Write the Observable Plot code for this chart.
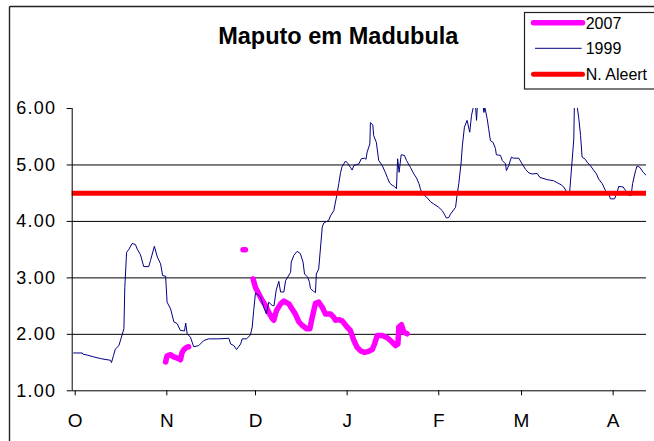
<!DOCTYPE html>
<html><head><meta charset="utf-8">
<script src="https://cdn.jsdelivr.net/npm/d3@7"></script>
<script src="https://cdn.jsdelivr.net/npm/@observablehq/plot@0.6"></script>
<style>
html,body{margin:0;padding:0;background:#fff;}
#chart{position:relative;width:654px;height:441px;overflow:hidden;}
</style></head><body><div id="chart"></div>
<script>
// ---- data ----
const title = "Maputo em Madubula";
const seasonStart = "1998-10-01T00:00:00Z";
const seasonLengthDays = 194.3;
const monthTicks = ["1998-10-01","1998-11-01","1998-12-01","1999-01-01","1999-02-01","1999-03-01","1999-04-01"];
const monthLabels = ["O","N","D","J","F","M","A"];
const yTicks = [1, 2, 3, 4, 5, 6];
const gridLevels = [2, 3, 4, 5];
const alertLevel = 4.5;
const seriesNames = ["2007", "1999", "N. Aleert"];

// 1999: days since 1 Oct, water level (m)
const days1999 = [0.5,3.4,3.6,5.3,7.3,9.6,13.0,13.3,14.0,14.6,15.8,17.5,17.8,18.4,19.1,20.3,21.4,22.0,23.1,24.2,25.9,26.5,27.8,28.8,29.9,30.6,31.6,32.1,33.3,34.4,35.5,36.6,38.0,38.4,38.9,40.0,41.1,42.8,44.5,46.2,49.6,53.0,53.6,54.7,55.6,57.0,57.5,59.0,60.3,60.9,61.4,62.0,63.1,63.7,64.8,65.7,66.5,67.7,68.3,69.0,69.9,70.5,71.6,72.2,73.9,74.1,75.0,76.1,77.2,78.1,78.6,79.7,80.3,80.6,81.7,82.3,82.6,83.4,84.6,85.1,86.8,87.4,88.5,89.4,90.2,90.8,91.3,92.5,93.2,94.1,94.7,95.3,97.0,97.8,98.9,99.4,99.8,100.7,100.9,101.7,102.0,102.9,103.7,104.9,106.0,106.6,107.4,108.3,109.0,109.7,110.1,110.6,111.3,112.4,113.1,114.4,115.6,116.5,117.3,117.8,118.4,119.9,121.2,122.3,124.0,125.2,125.9,126.6,127.4,128.0,129.7,130.2,130.8,131.6,132.0,132.7,133.6,134.5,135.1,135.7,136.3,136.8,137.2,138.5,139.0,139.3,139.6,140.4,140.9,141.5,142.4,143.2,143.5,144.9,145.5,146.6,146.9,147.7,148.6,149.2,151.1,152.2,153.4,154.5,155.6,157.3,158.2,160.7,162.9,164.3,165.4,166.3,167.2,168.3,169.1,169.7,169.9,170.4,170.8,171.4,172.0,172.5,173.6,174.2,175.3,176.5,177.4,178.1,179.3,180.4,181.5,182.1,183.5,184.4,184.9,186.4,187.2,188.3,189.1,189.6,190.6,191.1,192.0,193.2,194.3];
const level1999 = [1.67,1.67,1.65,1.63,1.60,1.57,1.54,1.50,1.63,1.74,1.80,2.10,2.83,3.45,3.50,3.61,3.59,3.51,3.41,3.20,3.20,3.31,3.56,3.37,3.25,3.04,3.03,2.57,2.45,2.22,2.19,2.07,2.06,2.20,2.01,1.95,1.78,1.80,1.89,1.92,1.92,1.93,1.83,1.80,1.73,1.83,1.92,1.92,1.99,2.13,2.42,2.73,2.69,2.66,2.48,2.36,2.57,2.51,2.51,2.78,2.94,2.75,2.75,2.95,3.10,3.28,3.40,3.47,3.43,3.28,3.07,3.01,2.92,2.81,2.76,2.74,3.07,3.16,3.90,3.97,4.02,4.10,4.19,4.43,4.67,4.87,4.97,5.07,5.03,4.96,4.91,4.99,5.02,5.11,5.12,5.10,5.23,5.37,5.75,5.71,5.52,5.40,5.08,4.99,4.86,4.78,4.68,4.64,4.62,4.58,5.11,4.87,5.18,5.17,5.08,4.96,4.84,4.77,4.67,4.58,4.49,4.43,4.35,4.31,4.25,4.19,4.13,4.06,4.07,4.13,4.25,4.46,4.67,5.05,5.34,5.67,5.79,5.58,5.88,6.02,6.15,5.79,6.15,6.20,6.05,5.93,6.02,5.82,5.64,5.43,5.40,5.29,5.18,5.17,5.08,5.02,4.90,4.99,5.14,5.12,5.12,5.02,4.92,4.86,4.84,4.85,4.78,4.74,4.72,4.68,4.65,4.61,4.53,4.52,5.05,5.46,6.05,6.30,6.05,5.82,5.52,5.14,5.10,5.05,4.99,4.90,4.84,4.75,4.67,4.55,4.49,4.40,4.40,4.52,4.62,4.61,4.55,4.46,4.46,4.67,4.90,4.98,4.96,4.87,4.81];

// 2007: days since 1 Oct, water level (m), run id (gaps between runs)
const days2007 = [31.6,32.1,33.3,34.4,36.0,36.6,37.2,37.8,38.7,39.4, 57.8,58.6, 61.2,62.0,63.1,64.3,65.4,66.5,67.7,68.2,69.1,70.5,71.6,73.3,74.4,75.5,76.7,77.8,79.3,80.4,81.2,82.3,83.4,84.6,85.7,87.4,88.5,89.1,90.2,91.3,93.0,94.1,95.3,96.4,97.5,98.9,100.3,101.5,102.3,103.2,104.9,106.6,108.3,109.4,110.2,110.5,111.4,112.2,113.3];
const level2007 = [1.51,1.62,1.64,1.60,1.57,1.55,1.68,1.73,1.77,1.78, 3.50,3.50, 2.98,2.83,2.72,2.60,2.51,2.39,2.28,2.25,2.42,2.54,2.59,2.54,2.45,2.36,2.22,2.16,2.10,2.10,2.30,2.55,2.57,2.48,2.36,2.36,2.30,2.25,2.26,2.24,2.13,2.07,1.89,1.77,1.71,1.68,1.70,1.73,1.83,1.98,1.98,1.94,1.86,1.80,1.83,2.13,2.17,2.04,2.01];
const run2007 = [1,1,1,1,1,1,1,1,1,1, 2,2, 3,3,3,3,3,3,3,3,3,3,3,3,3,3,3,3,3,3,3,3,3,3,3,3,3,3,3,3,3,3,3,3,3,3,3,3,3,3,3,3,3,3,3,3,3,3,3];

// ---- build ----
const t0 = new Date(seasonStart);
const toDate = d => new Date(+t0 + d * 864e5);
const tickDates = monthTicks.map(s => new Date(s + "T00:00:00Z"));
const s1999 = days1999.map((d, i) => ({date: toDate(d), level: level1999[i]}));
const s2007 = days2007.map((d, i) => ({date: toDate(d), level: level2007[i], run: run2007[i]}));

const FONT = "'Liberation Sans', Arial, sans-serif";
const W = 654, H = 441;
const colors = {"2007": "#ff00ff", "1999": "#000080", "N. Aleert": "#ff0000"};

const svg = Plot.plot({
  width: W, height: H,
  marginLeft: 71.7, marginRight: 8, marginTop: 108, marginBottom: 50.7,
  x: {type: "utc", domain: [t0, toDate(seasonLengthDays)]},
  y: {domain: [1, 6]},
  style: {fontFamily: FONT, color: "black", background: "white", overflow: "visible"},
  marks: [
    Plot.ruleY(gridLevels, {stroke: "black", strokeWidth: 1}),
    Plot.line(s2007, {x: "date", y: "level", z: "run", stroke: colors["2007"], strokeWidth: 5.5, strokeLinecap: "round", strokeLinejoin: "round"}),
    Plot.line(s1999, {x: "date", y: "level", stroke: colors["1999"], strokeWidth: 1, clip: true}),
    Plot.ruleY([alertLevel], {stroke: colors["N. Aleert"], strokeWidth: 5}),
    Plot.ruleY([1], {stroke: "black", strokeWidth: 1}),
    Plot.ruleX([t0], {stroke: "black", strokeWidth: 1}),
    Plot.axisX({ticks: tickDates, tickFormat: d => monthLabels[tickDates.findIndex(t => +t === +d)], tickSize: 5, tickPadding: 18, fontSize: 19, dx: 3, label: null}),
    Plot.axisY({ticks: yTicks, tickFormat: d3.format(".2f"), tickSize: 5, tickPadding: 11, fontSize: 18, label: null})
  ]
});

const root = d3.select(svg);
root.selectAll('g[aria-label="y-axis tick label"] text').attr("letter-spacing", "1.2px");

// chart frame (top and left edges visible)
root.append("line").attr("x1", 9.5).attr("x2", W).attr("y1", 6.5).attr("y2", 6.5).attr("stroke", "#222").attr("stroke-width", 1.4);
root.append("line").attr("x1", 9.5).attr("x2", 9.5).attr("y1", 6.5).attr("y2", H).attr("stroke", "#222").attr("stroke-width", 1.4);

// title
root.append("text").attr("x", 338.3).attr("y", 44).attr("text-anchor", "middle")
  .attr("font-family", FONT).attr("font-weight", "bold").attr("font-size", 23.5).attr("fill", "black").text(title);

// legend
const lg = root.append("g").attr("font-family", FONT).attr("font-size", 16).attr("text-anchor", "start");
lg.append("rect").attr("x", 524.5).attr("y", 12.5).attr("width", 200).attr("height", 76.5).attr("fill", "white").attr("stroke", "#222").attr("stroke-width", 1.2);
const rows = [
  {name: seriesNames[0], y: 22.7, w: 5.5, x1: 533.5, x2: 582.5},
  {name: seriesNames[1], y: 48.3, w: 1, x1: 535, x2: 581.7},
  {name: seriesNames[2], y: 74.3, w: 5, x1: 533.5, x2: 582.5}
];
for (const r of rows) {
  lg.append("line").attr("x1", r.x1).attr("x2", r.x2).attr("y1", r.y).attr("y2", r.y)
    .attr("stroke", colors[r.name]).attr("stroke-width", r.w).attr("stroke-linecap", r.w > 2 ? "round" : "butt");
  lg.append("text").attr("x", 585.7).attr("y", r.y + 5.8).attr("text-anchor", "start").attr("fill", "black").text(r.name);
}

document.getElementById("chart").appendChild(svg);
</script>
</body></html>
